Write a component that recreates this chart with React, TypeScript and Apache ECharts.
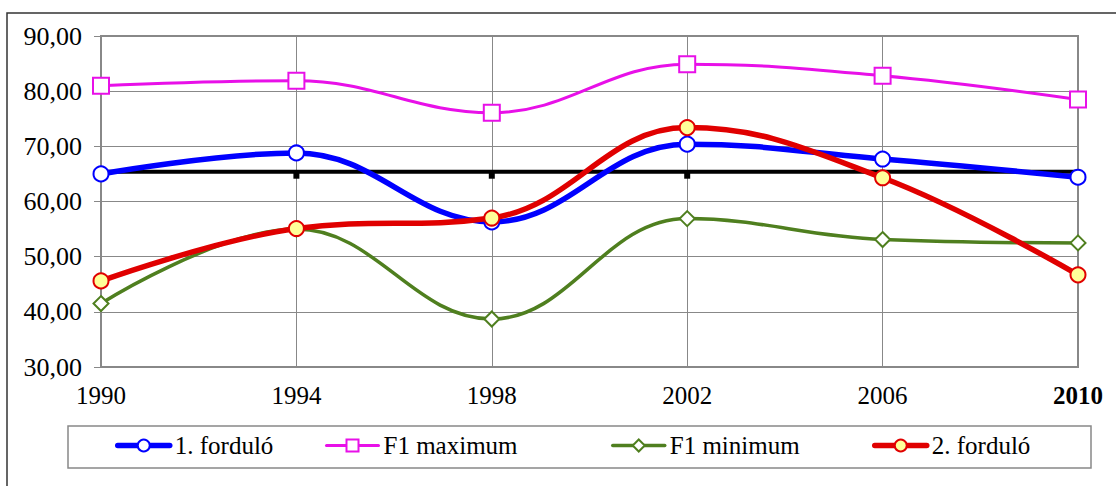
import React, { useEffect, useRef } from "react";
import * as echarts from "echarts";

const years = ["1990", "1994", "1998", "2002", "2006", "2010"];
const forduló1 = [65.0, 68.8, 56.3, 70.4, 67.7, 64.4];
const f1Max = [81.0, 81.9, 76.1, 84.9, 82.8, 78.5];
const f1Min = [41.5, 55.0, 38.7, 56.9, 53.1, 52.5];
const forduló2 = [45.6, 55.1, 57.0, 73.4, 64.3, 46.7];
const atlag = [65.4, 65.4, 65.4, 65.4, 65.4, 65.4];
const yTicks = [30, 40, 50, 60, 70, 80, 90];

const FONT = "'Liberation Serif', 'Times New Roman', serif";

export default function App() {
  const ref = useRef<HTMLDivElement>(null);
  useEffect(() => {
    if (!ref.current) return;
    const chart = echarts.init(ref.current, null, { renderer: "svg" });
    const legendText = { fontFamily: FONT, fontSize: 25, color: "#000" };
    const mkLegend = (name: string, left: number, lw: number) => ({
      data: [name],
      left,
      top: 433,
      padding: 0,
      itemWidth: 52,
      itemHeight: 15,
      itemGap: 3,
      lineStyle: { width: lw, cap: "round" },
      textStyle: legendText,
    });
    chart.setOption({
      animation: false,
      backgroundColor: "#fff",
      grid: {
        left: 101,
        top: 36,
        right: 38,
        bottom: 119,
        show: true,
        borderColor: "#888",
        borderWidth: 2,
      },
      legend: [
        mkLegend("1. forduló", 115, 5.5),
        mkLegend("F1 maximum", 325, 3),
        mkLegend("F1 minimum", 611, 3.5),
        mkLegend("2. forduló", 872, 5.5),
      ],
      graphic: [
        {
          type: "rect",
          shape: { x: 7, y: 13, width: 1125, height: 490 },
          style: { fill: "none", stroke: "#333", lineWidth: 1.5 },
          silent: true,
        },
        {
          type: "rect",
          shape: { x: 68, y: 426, width: 1023, height: 42 },
          style: { fill: "none", stroke: "#888", lineWidth: 1.5 },
          silent: true,
        },
      ],
      xAxis: {
        type: "category",
        data: years,
        boundaryGap: false,
        axisLine: { show: true, lineStyle: { color: "#888", width: 2 } },
        axisTick: { show: false },
        splitLine: { show: true, lineStyle: { color: "#888", width: 1 } },
        axisLabel: {
          margin: 16,
          fontFamily: FONT,
          fontSize: 25,
          color: "#000",
          formatter: (v: string) => (v === "2010" ? "{b|" + v + "}" : v),
          rich: {
            b: { fontFamily: FONT, fontSize: 25, fontWeight: "bold", color: "#000" },
          },
        },
      },
      yAxis: {
        type: "value",
        min: yTicks[0],
        max: yTicks[yTicks.length - 1],
        interval: 10,
        axisLine: { show: true, lineStyle: { color: "#888", width: 2 } },
        axisTick: { show: true, length: 7, lineStyle: { color: "#888" } },
        splitLine: { show: true, lineStyle: { color: "#888", width: 1 } },
        axisLabel: {
          margin: 19,
          fontFamily: FONT,
          fontSize: 26,
          color: "#000",
          formatter: (v: number) => v.toFixed(2).replace(".", ","),
        },
      },
      series: [
        {
          name: "átlag",
          type: "line",
          data: atlag,
          symbol: "rect",
          symbolSize: [6, 6],
          symbolOffset: [0, 4],
          itemStyle: { color: "#000" },
          lineStyle: { color: "#000", width: 4 },
          z: 1,
        },
        {
          name: "F1 maximum",
          type: "line",
          data: f1Max,
          smooth: 0.4,
          symbol: "rect",
          symbolSize: 16,
          itemStyle: { color: "#fff", borderColor: "#e810e8", borderWidth: 2 },
          lineStyle: { color: "#e810e8", width: 3 },
          z: 2,
        },
        {
          name: "F1 minimum",
          type: "line",
          data: f1Min,
          smooth: 0.4,
          symbol: "diamond",
          symbolSize: 15,
          itemStyle: { color: "#fff", borderColor: "#4f7f1f", borderWidth: 2 },
          lineStyle: { color: "#4f7f1f", width: 3.5 },
          z: 3,
        },
        {
          name: "1. forduló",
          type: "line",
          data: forduló1,
          smooth: 0.4,
          symbol: "circle",
          symbolSize: 15,
          itemStyle: { color: "#fff", borderColor: "#0000ff", borderWidth: 2 },
          lineStyle: { color: "#0000ff", width: 5.5 },
          z: 4,
        },
        {
          name: "2. forduló",
          type: "line",
          data: forduló2,
          smooth: 0.4,
          symbol: "circle",
          symbolSize: 15,
          itemStyle: { color: "#ffff99", borderColor: "#e00000", borderWidth: 2 },
          lineStyle: { color: "#e00000", width: 5.5 },
          z: 5,
        },
      ],
    });
    return () => chart.dispose();
  }, []);
  return (
    <div
      ref={ref}
      style={{ position: "fixed", left: 0, top: 0, width: 1116, height: 486 }}
    />
  );
}
